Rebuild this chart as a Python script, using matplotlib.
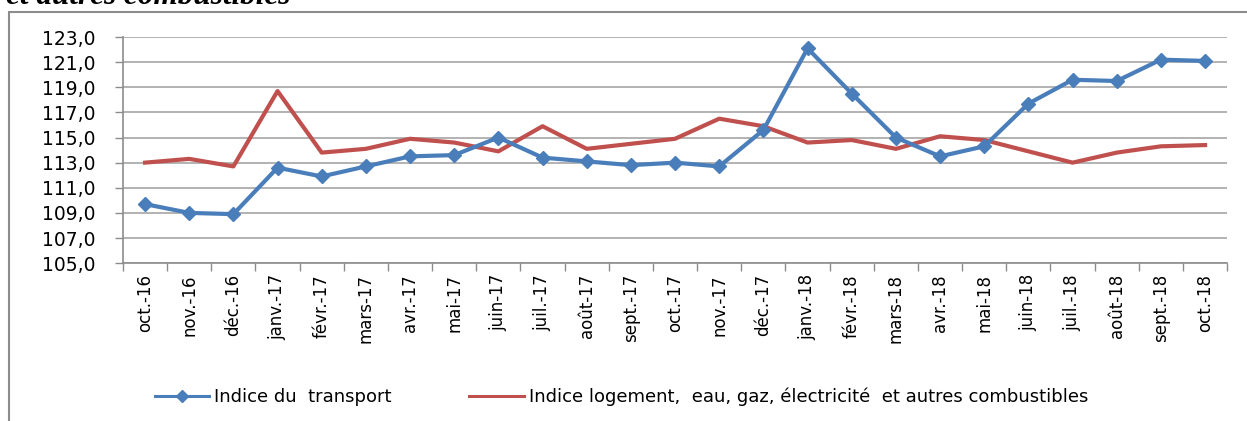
import matplotlib
matplotlib.use('Agg')
import matplotlib.pyplot as plt
from matplotlib.patches import Rectangle
from matplotlib.lines import Line2D

mois = ['oct.-16', 'nov.-16', 'déc.-16', 'janv.-17', 'févr.-17', 'mars-17', 'avr.-17',
        'mai-17', 'juin-17', 'juil.-17', 'août-17', 'sept.-17', 'oct.-17', 'nov.-17',
        'déc.-17', 'janv.-18', 'févr.-18', 'mars-18', 'avr.-18', 'mai-18', 'juin-18',
        'juil.-18', 'août-18', 'sept.-18', 'oct.-18']
transport = [109.7, 109.0, 108.9, 112.6, 111.9, 112.7, 113.5, 113.6, 115.0, 113.4,
             113.1, 112.8, 113.0, 112.7, 115.6, 122.1, 118.5, 115.0, 113.5, 114.3,
             117.7, 119.6, 119.5, 121.2, 121.1]
logement = [113.0, 113.3, 112.7, 118.7, 113.8, 114.1, 114.9, 114.6, 113.9, 115.9,
            114.1, 114.5, 114.9, 116.5, 115.9, 114.6, 114.8, 114.1, 115.1, 114.8,
            113.9, 113.0, 113.8, 114.3, 114.4]
yticks = [105, 107, 109, 111, 113, 115, 117, 119, 121, 123]

bleu = '#4A7EBB'
rouge = '#C0504D'
gris = '#8C8C8C'

fig = plt.figure(figsize=(12.47, 4.21), dpi=100)
ax = fig.add_axes([0.0986, 0.375, 0.8855, 0.537])

x = list(range(len(mois)))
ax.plot(x, transport, color=bleu, lw=3, marker='D', ms=7, mfc=bleu, mec=bleu, zorder=3)
ax.plot(x, logement, color=rouge, lw=3, zorder=2)

ax.set_xlim(-0.5, len(mois) - 0.5)
ax.set_ylim(105, 123)
ax.set_yticks(yticks)
ax.set_yticklabels(['%d,0' % v for v in yticks], fontsize=13.5)
ax.grid(axis='y', color='#A6A6A6', lw=1.2)
ax.set_axisbelow(True)

# ticks between categories, labels on centres
ax.set_xticks([i - 0.5 for i in range(len(mois) + 1)])
ax.set_xticklabels([])
ax.set_xticks(x, minor=True)
ax.set_xticklabels(mois, minor=True, rotation=90, fontsize=12)
ax.tick_params(axis='x', which='minor', length=0, pad=8)
ax.tick_params(axis='x', which='major', length=6, color=gris, width=1)
ax.tick_params(axis='y', length=6, color=gris, width=1, pad=14)

for s in ['top', 'right']:
    ax.spines[s].set_visible(False)
for s in ['left', 'bottom']:
    ax.spines[s].set_color(gris)
    ax.spines[s].set_linewidth(1.2)

# frame of the chart object
fig.patches.append(Rectangle((0.0072, -0.1), 1.2, 0.9715 + 0.1, transform=fig.transFigure,
                             fill=False, edgecolor=gris, lw=1.5))

# title cut at top of picture
fig.text(0.005, 0.9905, 'et autres combustibles', fontsize=22.5, fontweight='bold',
         fontstyle='italic', family='Liberation Serif', va='baseline', ha='left')

handles = [Line2D([], [], color=bleu, lw=2.2, marker='D', ms=6),
           Line2D([], [], color=rouge, lw=2.2)]
fig.legend(handles, ['Indice du  transport',
                     'Indice logement,  eau, gaz, électricité  et autres combustibles'],
           loc='center left', bbox_to_anchor=(0.111, 0.057), ncol=2, frameon=False,
           fontsize=13, handlelength=3.0, handletextpad=0.3, columnspacing=4.3)

fig.savefig('out.png', dpi=100)
